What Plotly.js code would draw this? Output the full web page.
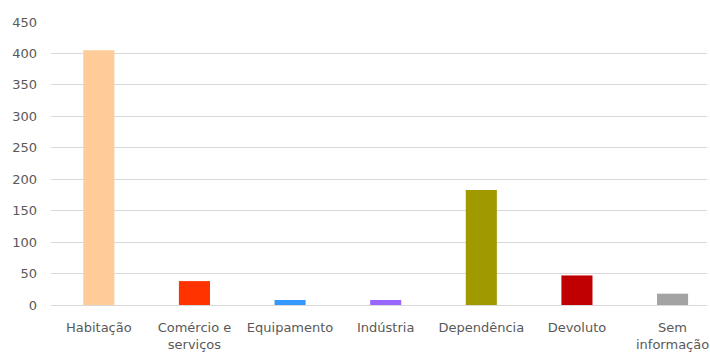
<!DOCTYPE html>
<html><head><meta charset="utf-8">
<script src="https://cdn.plot.ly/plotly-3.0.1.min.js"></script>
<style>body{margin:0;background:#fff}#c{width:710px;height:354px}</style>
</head><body><div id="c"></div>
<script>
const categories = ["Habitação", "Comércio e<br>serviços", "Equipamento", "Indústria", "Dependência", "Devoluto", "Sem<br>informação"];
const values = [405, 38, 8, 8, 183, 47, 18];
const colors = ["#FFCC99", "#FF3300", "#3399FF", "#9966FF", "#A09A00", "#C00000", "#A3A3A3"];
const yTicks = [0, 50, 100, 150, 200, 250, 300, 350, 400, 450];

Plotly.newPlot("c", [{
  type: "bar",
  x: categories,
  y: values,
  marker: {color: colors, line: {width: 0}},
  hoverinfo: "none"
}], {
  width: 710, height: 354,
  margin: {l: 51, r: 3, t: 22, b: 49},
  paper_bgcolor: "#fff", plot_bgcolor: "#fff",
  bargap: 0.675,
  showlegend: false,
  font: {family: "DejaVu Sans, sans-serif", size: 13, color: "#595959"},
  xaxis: {range: [-0.5, 6.36], showgrid: false, showline: false, ticks: "", ticklabelstandoff: 13,
          tickfont: {size: 13, color: "#595959"}},
  yaxis: {range: [0, 450], tickvals: yTicks, ticktext: yTicks.map(String), showgrid: true, gridcolor: "#D9D9D9", gridwidth: 1,
          zeroline: true, zerolinecolor: "#D9D9D9", zerolinewidth: 1, showline: false, ticks: "", ticklabelstandoff: 13,
          tickfont: {size: 13, color: "#595959"}}
}, {displayModeBar: false, staticPlot: true});
</script></body></html>
